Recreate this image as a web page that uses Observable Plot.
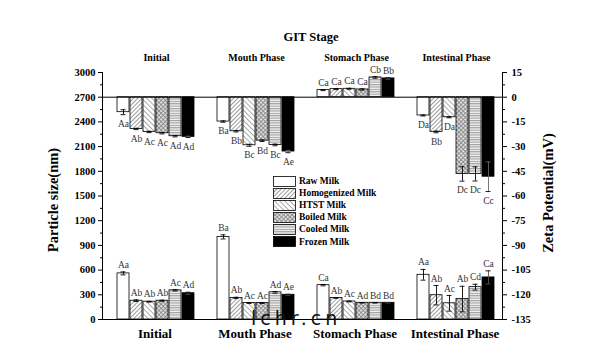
<!DOCTYPE html>
<html><head><meta charset="utf-8">
<script src="https://cdn.jsdelivr.net/npm/d3@7"></script>
<script src="https://cdn.jsdelivr.net/npm/@observablehq/plot@0.6"></script>
<style>
body{margin:0;background:#fff;}
#wrap{position:relative;width:600px;height:345px;font-family:"Liberation Serif","Times New Roman",serif;color:#000;}
#wrap svg.plot{position:absolute;left:0;top:0;}
.ov{position:absolute;white-space:nowrap;font-weight:bold;line-height:1;}
.rot{transform:translate(-50%,-50%) rotate(-90deg);}
#legend{position:absolute;left:273px;top:175px;font:bold 9.5px "Liberation Serif",serif;}
#legend .row{display:flex;align-items:center;height:12.1px;}
#legend svg{margin-right:3px;}
#wm{position:absolute;left:251px;top:309px;font:19px "DejaVu Sans",sans-serif;letter-spacing:4px;color:#111;line-height:1;}
</style></head><body>
<svg width="0" height="0" style="position:absolute"><defs>
<pattern id="pHom" patternUnits="userSpaceOnUse" width="3" height="3" patternTransform="rotate(45)"><rect width="3" height="3" fill="#fff"/><line x1="0.5" y1="0" x2="0.5" y2="3" stroke="#909090" stroke-width="0.9"/></pattern>
<pattern id="pHtst" patternUnits="userSpaceOnUse" width="3.6" height="3.6" patternTransform="rotate(-45)"><rect width="3.6" height="3.6" fill="#fff"/><line x1="0.5" y1="0" x2="0.5" y2="3.6" stroke="#a0a0a0" stroke-width="0.9"/></pattern>
<pattern id="pBoil" patternUnits="userSpaceOnUse" width="3" height="3" patternTransform="rotate(45)"><rect width="3" height="3" fill="#e0e0e0"/><line x1="0.5" y1="0" x2="0.5" y2="3" stroke="#808080" stroke-width="0.8"/><line x1="0" y1="0.5" x2="3" y2="0.5" stroke="#808080" stroke-width="0.8"/></pattern>
<pattern id="pCool" patternUnits="userSpaceOnUse" width="4" height="2.4"><rect width="4" height="2.4" fill="#f4f4f4"/><line x1="0" y1="0.6" x2="4" y2="0.6" stroke="#939393" stroke-width="1"/></pattern>
</defs></svg>
<div id="wrap">
  <div class="ov" style="left:311px;top:37px;transform:translate(-50%,-50%);font-size:12.5px;">GIT Stage</div>
  <div class="ov rot" style="left:53px;top:200px;font-size:14.5px;">Particle size(nm)</div>
  <div class="ov rot" style="left:548px;top:193px;font-size:14.5px;">Zeta Potential(mV)</div>
  <div id="legend"></div>
  <div id="wm">lchr.cn</div>
</div>
<script>
// ---- data ----
const phases = ["Initial", "Mouth Phase", "Stomach Phase", "Intestinal Phase"];
const milks = ["Raw Milk", "Homogenized Milk", "HTST Milk", "Boiled Milk", "Cooled Milk", "Frozen Milk"];
const fills = ["#ffffff", "url(#pHom)", "url(#pHtst)", "url(#pBoil)", "url(#pCool)", "#000000"];

// particle size (nm): one array per phase, in milk order
const sizeInitial    = [560, 228, 216, 228, 354, 319];
const sizeMouth      = [1003, 262, 200, 200, 330, 300];
const sizeStomach    = [417, 262, 219, 203, 203, 203];
const sizeIntestinal = [543, 295, 197, 248, 393, 511];
const sizeErrInitial    = [18, 10, 5, 6, 8, 12];
const sizeErrMouth      = [25, 8, 5, 5, 10, 6];
const sizeErrStomach    = [8, 5, 5, 3, 3, 3];
const sizeErrIntestinal = [65, 118, 95, 155, 35, 80];
const sizeLetters = [
  ["Aa", "Ab", "Ab", "Ab", "Ac", "Ad"],
  ["Ba", "Ab", "Ac", "Ac", "Ad", "Ae"],
  ["Ca", "Ab", "Ac", "Ad", "Bd", "Bd"],
  ["Aa", "Ab", "Ac", "Ab", "Cd", "Ca"]
];

// zeta potential (mV)
const zetaInitial    = [-9.1, -19.3, -21.1, -21.9, -23.7, -24.1];
const zetaMouth      = [-14.8, -20.7, -29.2, -26.4, -29.0, -33.0];
const zetaStomach    = [4.3, 4.9, 5.1, 4.7, 12.0, 11.4];
const zetaIntestinal = [-11.1, -21.1, -12.2, -46.6, -46.6, -48.3];
const zetaErrInitial    = [1.5, 0.4, 0.4, 0.4, 0.4, 0.4];
const zetaErrMouth      = [0.4, 0.4, 0.6, 0.5, 0.5, 0.7];
const zetaErrStomach    = [0.3, 0.3, 0.3, 0.4, 0.5, 0.4];
const zetaErrIntestinal = [0.3, 0.5, 0.3, 4.4, 4.3, 9.0];
const zetaLetters = [
  ["Aa", "Ab", "Ac", "Ac", "Ad", "Ad"],
  ["Ba", "Bb", "Bc", "Bd", "Bc", "Ae"],
  ["Ca", "Ca", "Ca", "Ca", "Cb", "Bb"],
  ["Da", "Bb", "Da", "Dc", "Dc", "Cc"]
];

// axis ticks
const sizeTicks = d3.range(0, 3001, 300);
const sizeMinor = d3.range(150, 3000, 300);
const zetaTicks = d3.range(-135, 16, 15);
const zetaMinor = d3.range(-127.5, 15, 15);

// secondary (right) axis: 0 mV sits at 2700 nm, 15 mV per 300 nm
const ZERO = 2700, K = 20;
const zy = v => ZERO + K * v;

const sizes = [sizeInitial, sizeMouth, sizeStomach, sizeIntestinal];
const sizeErrs = [sizeErrInitial, sizeErrMouth, sizeErrStomach, sizeErrIntestinal];
const zetas = [zetaInitial, zetaMouth, zetaStomach, zetaIntestinal];
const zetaErrs = [zetaErrInitial, zetaErrMouth, zetaErrStomach, zetaErrIntestinal];
const rows = [];
phases.forEach((p, i) => milks.forEach((m, j) => rows.push({
  phase: p, milk: m,
  size: sizes[i][j], sErr: sizeErrs[i][j], sLab: sizeLetters[i][j],
  zeta: zetas[i][j], zErr: zetaErrs[i][j], zLab: zetaLetters[i][j]
})));
const neg = rows.filter(d => d.zeta < 0);
const pos = rows.filter(d => d.zeta >= 0);

const common = {fx: "phase", x: "milk"};
const errCap = {insetLeft: 3.5, insetRight: 3.5, strokeWidth: 0.9};
const plot = Plot.plot({
  width: 600, height: 345,
  marginTop: 72, marginBottom: 26, marginLeft: 100, marginRight: 97,
  style: {fontFamily: "'Liberation Serif', serif", background: "transparent", color: "#000", overflow: "visible"},
  fx: {domain: phases, padding: 0, label: null},
  x: {domain: milks, paddingInner: 0.1, paddingOuter: 0.72, align: 0.66, axis: null, label: null},
  y: {domain: [0, 3000], label: null},
  color: {type: "ordinal", domain: milks, range: fills},
  marks: [
    // particle size bars
    Plot.barY(rows, {...common, y: "size", fill: "milk", stroke: "#000", strokeWidth: 0.8}),
    Plot.ruleX(rows, {...common, y1: d => d.size - d.sErr, y2: d => d.size + d.sErr, stroke: d => d.milk === "Frozen Milk" ? "#555" : "#000", strokeWidth: 0.9}),
    Plot.tickY(rows, {...common, ...errCap, y: d => d.size + d.sErr}),
    Plot.tickY(rows, {...common, ...errCap, y: d => d.size - d.sErr, stroke: d => d.milk === "Frozen Milk" ? "#555" : "#000"}),
    Plot.text(rows, {...common, y: d => d.size + d.sErr, text: "sLab", dy: -7, fontSize: 9.5, fill: "#333"}),
    // zeta potential bars
    Plot.barY(rows, {...common, y1: () => ZERO, y2: d => zy(d.zeta), fill: "milk", stroke: "#000", strokeWidth: 0.8}),
    Plot.ruleX(rows, {...common, y1: d => zy(d.zeta - d.zErr), y2: d => zy(d.zeta + d.zErr), stroke: d => d.milk === "Frozen Milk" ? "#666" : "#000", strokeWidth: 0.9}),
    Plot.tickY(neg, {...common, ...errCap, y: d => zy(d.zeta - d.zErr)}),
    Plot.tickY(neg, {...common, ...errCap, y: d => zy(d.zeta + d.zErr), stroke: d => d.milk === "Frozen Milk" ? "#666" : "#000"}),
    Plot.tickY(pos, {...common, ...errCap, y: d => zy(d.zeta + d.zErr)}),
    Plot.tickY(pos, {...common, ...errCap, y: d => zy(d.zeta - d.zErr), stroke: d => d.milk === "Frozen Milk" ? "#666" : "#000"}),
    Plot.text(neg, {...common, y: d => zy(d.zeta - d.zErr), text: "zLab", dy: 9, fontSize: 9.5, fill: "#333"}),
    Plot.text(pos, {...common, y: d => zy(d.zeta + d.zErr), text: "zLab", dy: -7, fontSize: 9.5, fill: "#333"}),
    // baseline and zero line
    Plot.ruleY([0, ZERO], {stroke: "#000", strokeWidth: 1}),
    Plot.frame({anchor: "left", facetAnchor: "left", stroke: "#000"}),
    Plot.frame({anchor: "right", facetAnchor: "right", stroke: "#000"}),
    // left axis
    Plot.axisY(sizeTicks, {anchor: "left", tickSize: 4, tickPadding: 3, fontSize: 10.5, fontWeight: "bold", label: null, tickFormat: d => String(d)}),
    Plot.axisY(sizeMinor, {anchor: "left", tickSize: 2, tickFormat: () => "", label: null}),
    // right axis
    Plot.axisY(zetaTicks.map(zy), {anchor: "right", tickSize: 4, tickPadding: 5, fontSize: 10.5, fontWeight: "bold", label: null,
      tickFormat: d => String(Math.round((d - ZERO) / K))}),
    Plot.axisY(zetaMinor.map(zy), {anchor: "right", tickSize: 2, tickFormat: () => "", label: null}),
    // phase labels
    Plot.axisFx({anchor: "top", tickSize: 0, tickPadding: 12, fontSize: 10, fontWeight: "bold", dx: 4, label: null}),
    Plot.axisFx({anchor: "bottom", tickSize: 0, tickPadding: 9, fontSize: 13, fontWeight: "bold", dx: 2.5, label: null})
  ]
});
plot.classList.add("plot");
document.getElementById("wrap").prepend(plot);

// legend built from the same arrays
const lg = document.getElementById("legend");
milks.forEach((m, i) => {
  const row = document.createElement("div");
  row.className = "row";
  row.innerHTML = `<svg width="23" height="11"><rect x="0.5" y="0.5" width="22" height="10" fill="${fills[i]}" stroke="#000" stroke-width="0.8"/></svg><span>${m}</span>`;
  lg.appendChild(row);
});
</script>
</body></html>
